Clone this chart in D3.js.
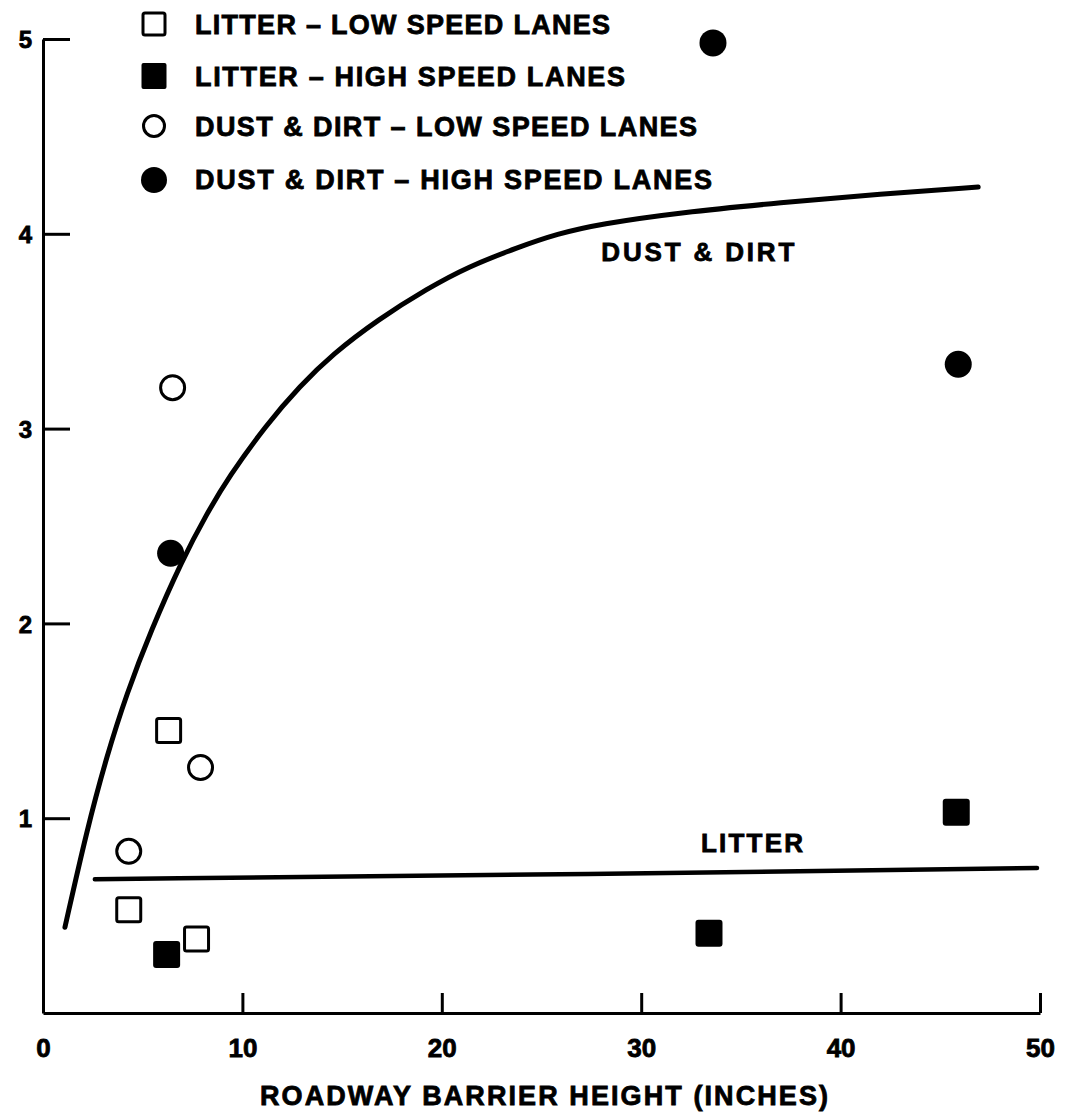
<!DOCTYPE html>
<html>
<head>
<meta charset="utf-8">
<script src="https://cdn.jsdelivr.net/npm/d3@7"></script>
<style>
  html, body { margin: 0; padding: 0; background: #fff; }
  svg { display: block; }
  text { font-family: "Liberation Sans", Arial, Helvetica, sans-serif; font-weight: bold; fill: #000; stroke: #000; stroke-width: 0.8px; }
</style>
</head>
<body>
<svg id="chart" width="1082" height="1112"></svg>
<script>
// ---- data ----
const xTicks = [0, 10, 20, 30, 40, 50];
const yTicks = [1, 2, 3, 4, 5];
const xTitle = "ROADWAY BARRIER HEIGHT (INCHES)";

const seriesNames = [
  "LITTER – LOW SPEED LANES",
  "LITTER – HIGH SPEED LANES",
  "DUST & DIRT – LOW SPEED LANES",
  "DUST & DIRT – HIGH SPEED LANES"
];

// barrier height (in), value
const litterLowX  = [6.3, 4.3, 7.7];
const litterLowY  = [1.45, 0.53, 0.38];
const litterHighX = [6.2, 33.4, 45.8];
const litterHighY = [0.30, 0.41, 1.03];
const dustLowX    = [6.5, 7.9, 4.3];
const dustLowY    = [3.21, 1.26, 0.83];
const dustHighX   = [6.4, 33.6, 45.9];
const dustHighY   = [2.36, 4.98, 3.33];

// fitted curves
const dustCurveX = [1.1, 2.2, 3.2, 4.2, 5.4, 7.0, 8.2, 9.3, 11.2, 12.9, 14.5, 16.8, 19.3, 21.3, 23.8, 25.8, 27.9, 32.0, 37.0, 42.0, 46.9];
const dustCurveY = [0.44, 0.94, 1.32, 1.64, 1.96, 2.33, 2.56, 2.75, 3.02, 3.22, 3.38, 3.56, 3.72, 3.83, 3.93, 4.00, 4.05, 4.11, 4.16, 4.205, 4.24];
const litterCurveX = [2.6, 27.9, 49.85];
const litterCurveY = [0.687, 0.713, 0.744];

const curveLabels = ["DUST & DIRT", "LITTER"];
const curveLabelX = [28, 33];      // left edge of label, data units
const curveLabelY = [3.86, 0.825]; // baseline, data units

// ---- drawing ----
const svg = d3.select("#chart");
const x = d3.scaleLinear().domain([0, 50]).range([43, 1040]);
const y = d3.scaleLinear().domain([0, 5]).range([1013, 39]);

// axes
const xAxis = d3.axisBottom(x).tickValues(xTicks).tickFormat(d3.format("d"))
  .tickSizeInner(-20).tickSizeOuter(0).tickPadding(26);
const yAxis = d3.axisLeft(y).tickValues(yTicks).tickFormat(d3.format("d"))
  .tickSizeInner(-27).tickSizeOuter(0).tickPadding(11);

const gx = svg.append("g").attr("transform", `translate(0,${y(0)})`).call(xAxis);
const gy = svg.append("g").attr("transform", `translate(${x(0)},0)`).call(yAxis);

[gx, gy].forEach(g => {
  g.select(".domain").attr("stroke", "#000").attr("stroke-width", 3);
  g.selectAll(".tick line").attr("stroke", "#000").attr("stroke-width", 3);
  g.selectAll(".tick text").attr("fill", "#000")
    .style("font-family", '"Liberation Sans", Arial, sans-serif')
    .style("font-weight", "bold");
});
gx.selectAll(".tick text").style("font-size", "26px");
gy.selectAll(".tick text").style("font-size", "24px").attr("dy", "0.36em");

// axis title
svg.append("text")
  .attr("x", 544).attr("y", 1105)
  .attr("text-anchor", "middle")
  .attr("textLength", 568).attr("lengthAdjust", "spacing")
  .style("font-size", "27px")
  .text(xTitle);

// curves
const line = d3.line().x(d => x(d[0])).y(d => y(d[1])).curve(d3.curveBasis);
svg.append("path")
  .datum(dustCurveX.map((v, i) => [v, dustCurveY[i]]))
  .attr("d", line).attr("fill", "none").attr("stroke", "#000")
  .attr("stroke-width", 5).attr("stroke-linecap", "round");
svg.append("path")
  .datum(litterCurveX.map((v, i) => [v, litterCurveY[i]]))
  .attr("d", line).attr("fill", "none").attr("stroke", "#000")
  .attr("stroke-width", 4.5).attr("stroke-linecap", "round");

// curve labels
const curveLabelLen = [193, 102];
curveLabels.forEach((t, i) => {
  svg.append("text")
    .attr("x", x(curveLabelX[i])).attr("y", y(curveLabelY[i]))
    .attr("textLength", curveLabelLen[i]).attr("lengthAdjust", "spacing")
    .style("font-size", "26px")
    .text(t);
});

// markers
const sq = 24, r = 12;
function openSquares(xs, ys) {
  svg.append("g").selectAll("rect").data(xs.map((v, i) => [v, ys[i]])).join("rect")
    .attr("x", d => x(d[0]) - sq / 2).attr("y", d => y(d[1]) - sq / 2)
    .attr("width", sq).attr("height", sq).attr("rx", 2)
    .attr("fill", "#fff").attr("stroke", "#000").attr("stroke-width", 3);
}
function filledSquares(xs, ys) {
  svg.append("g").selectAll("rect").data(xs.map((v, i) => [v, ys[i]])).join("rect")
    .attr("x", d => x(d[0]) - (sq + 3) / 2).attr("y", d => y(d[1]) - (sq + 3) / 2)
    .attr("width", sq + 3).attr("height", sq + 3).attr("rx", 3)
    .attr("fill", "#000");
}
function openCircles(xs, ys) {
  svg.append("g").selectAll("circle").data(xs.map((v, i) => [v, ys[i]])).join("circle")
    .attr("cx", d => x(d[0])).attr("cy", d => y(d[1])).attr("r", r)
    .attr("fill", "#fff").attr("stroke", "#000").attr("stroke-width", 3);
}
function filledCircles(xs, ys) {
  svg.append("g").selectAll("circle").data(xs.map((v, i) => [v, ys[i]])).join("circle")
    .attr("cx", d => x(d[0])).attr("cy", d => y(d[1])).attr("r", r + 1.5)
    .attr("fill", "#000");
}
openSquares(litterLowX, litterLowY);
filledSquares(litterHighX, litterHighY);
openCircles(dustLowX, dustLowY);
filledCircles(dustHighX, dustHighY);

// legend
const legRowY = [24, 76, 126, 179];
const legTextLen = [415, 430, 502, 517];
const legMarkX = 154, legTextX = 195;
const lg = svg.append("g");
seriesNames.forEach((name, i) => {
  const cy = legRowY[i];
  if (i === 0) {
    lg.append("rect").attr("x", legMarkX - 11).attr("y", cy - 11).attr("width", 22).attr("height", 22)
      .attr("rx", 2).attr("fill", "#fff").attr("stroke", "#000").attr("stroke-width", 3);
  } else if (i === 1) {
    lg.append("rect").attr("x", legMarkX - 12.5).attr("y", cy - 13).attr("width", 25).attr("height", 26)
      .attr("rx", 2).attr("fill", "#000");
  } else if (i === 2) {
    lg.append("circle").attr("cx", legMarkX).attr("cy", cy).attr("r", 10.5)
      .attr("fill", "#fff").attr("stroke", "#000").attr("stroke-width", 3);
  } else {
    lg.append("circle").attr("cx", legMarkX).attr("cy", cy + 1).attr("r", 13).attr("fill", "#000");
  }
  lg.append("text")
    .attr("x", legTextX).attr("y", cy + 10)
    .attr("textLength", legTextLen[i]).attr("lengthAdjust", "spacing")
    .style("font-size", "27px")
    .text(name);
});
</script>
</body>
</html>
